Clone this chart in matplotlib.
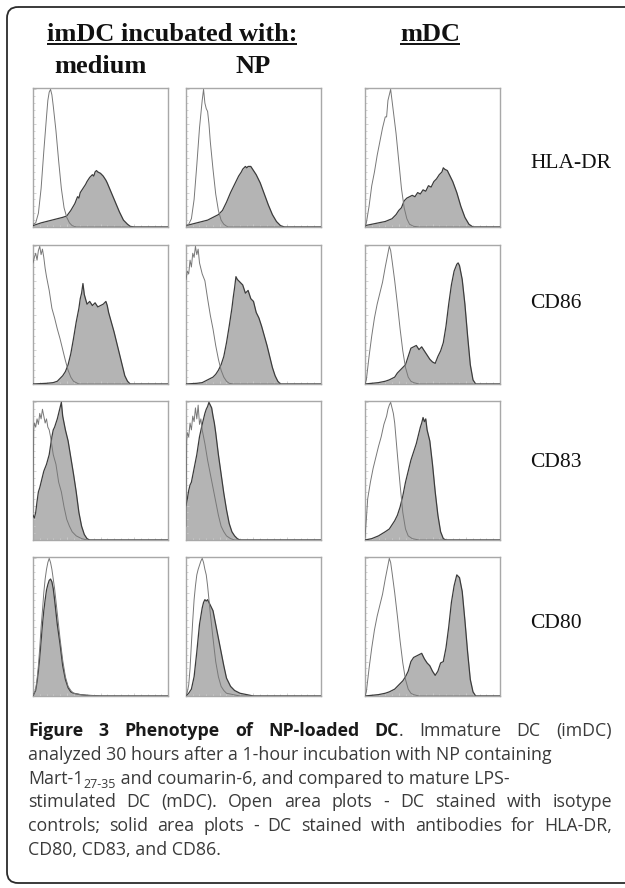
import matplotlib
matplotlib.use('Agg')
import matplotlib.pyplot as plt
from matplotlib.patches import FancyBboxPatch

# ---------------- data (x: fluorescence channel 0-100, y: % of max count) -------------
markers = ["HLA-DR", "CD86", "CD83", "CD80"]
conditions = ["medium", "NP", "mDC"]

# HLA-DR
hla_med_iso_x = [0, 2, 4, 6, 8, 10, 11, 12, 13, 14, 15, 17, 19, 21, 23, 25, 27, 29, 32, 40, 100]
hla_med_iso_y = [2, 3, 10, 28, 55, 80, 92, 98, 100, 96, 88, 70, 48, 28, 14, 7, 3, 1, 0, 0, 0]
hla_med_ab_x = [0, 3, 6, 10, 14, 18, 22, 25, 28, 31, 33, 34, 35, 37, 39, 40, 42, 44, 45, 46, 47, 48, 50, 52, 54, 55, 58, 61, 64, 67, 70, 72, 75, 100]
hla_med_ab_y = [1, 2, 3, 4, 5, 6, 7, 8, 12, 17, 22, 21, 25, 28, 31, 33, 36, 38, 37, 40, 41, 40, 39, 37, 34, 32, 25, 18, 11, 5, 2, 0.5, 0, 0]
hla_np_iso_x = [0, 2, 4, 6, 8, 10, 12, 13, 14, 15, 16, 17, 18, 20, 22, 24, 26, 28, 31, 40, 100]
hla_np_iso_y = [1, 2, 6, 20, 45, 72, 92, 100, 90, 86, 84, 75, 62, 42, 24, 12, 5, 2, 0, 0, 0]
hla_np_ab_x = [0, 4, 8, 12, 16, 20, 24, 27, 30, 33, 36, 39, 41, 42, 44, 45, 46, 48, 50, 52, 55, 58, 61, 64, 67, 70, 73, 100]
hla_np_ab_y = [1, 2, 3, 4, 5, 7, 9, 12, 18, 25, 31, 37, 40, 42, 44, 43, 44, 44, 41, 38, 32, 24, 16, 9, 4, 1, 0, 0]
hla_mdc_iso_x = [0, 1, 3, 5, 7, 9, 11, 13, 15, 16, 17, 18, 19, 20, 21, 23, 25, 27, 29, 31, 33, 36, 40, 100]
hla_mdc_iso_y = [0, 3, 15, 30, 40, 52, 62, 72, 80, 80, 92, 96, 100, 92, 84, 68, 48, 28, 14, 6, 2, 0.5, 0, 0]
hla_mdc_ab_x = [0, 5, 10, 15, 20, 23, 25, 27, 29, 31, 33, 35, 37, 39, 41, 43, 45, 47, 49, 51, 53, 55, 57, 58, 59, 61, 63, 65, 68, 71, 74, 77, 80, 100]
hla_mdc_ab_y = [1, 2, 3, 4, 6, 9, 12, 14, 19, 21, 22, 23, 22, 25, 24, 27, 26, 30, 29, 33, 35, 38, 40, 43, 42, 41, 37, 33, 25, 15, 7, 2, 0, 0]

# CD86
cd86_med_iso_x = [0, 1, 2, 3, 4, 5, 6, 7, 8, 9, 10, 12, 14, 16, 18, 20, 22, 24, 26, 28, 30, 32, 34, 40, 100]
cd86_med_iso_y = [88, 92, 95, 90, 97, 100, 94, 98, 92, 84, 78, 68, 55, 48, 40, 33, 25, 17, 10, 5, 2, 1, 0, 0, 0]
cd86_med_ab_x = [0, 10, 15, 18, 20, 22, 24, 26, 28, 30, 32, 34, 35, 36, 37, 38, 40, 42, 44, 46, 48, 50, 52, 54, 55, 56, 58, 60, 62, 64, 66, 68, 70, 72, 100]
cd86_med_ab_y = [0, 0.5, 1, 2, 4, 6, 9, 14, 22, 33, 45, 55, 62, 66, 73, 65, 58, 60, 57, 59, 56, 57, 58, 60, 57, 52, 45, 38, 30, 22, 14, 6, 2, 0, 0]
cd86_np_iso_x = [0, 1, 2, 3, 4, 5, 6, 7, 8, 9, 10, 12, 14, 16, 18, 20, 22, 24, 26, 28, 30, 32, 35, 100]
cd86_np_iso_y = [76, 82, 80, 90, 85, 95, 92, 100, 94, 98, 88, 80, 75, 62, 50, 40, 28, 18, 10, 5, 2, 0.5, 0, 0]
cd86_np_ab_x = [0, 8, 12, 16, 20, 22, 24, 26, 28, 30, 32, 34, 35, 36, 37, 38, 40, 42, 44, 46, 48, 50, 52, 54, 56, 58, 60, 62, 64, 66, 68, 70, 100]
cd86_np_ab_y = [0, 0.5, 1, 3, 5, 7, 10, 14, 20, 30, 42, 55, 63, 70, 78, 76, 74, 72, 66, 68, 62, 60, 52, 48, 42, 35, 28, 20, 12, 6, 2, 0, 0]
cd86_mdc_iso_x = [0, 1, 3, 5, 7, 9, 11, 13, 15, 17, 18, 19, 20, 22, 24, 26, 28, 30, 32, 34, 36, 40, 100]
cd86_mdc_iso_y = [0, 3, 20, 35, 48, 58, 66, 74, 85, 95, 100, 97, 90, 75, 58, 40, 24, 12, 5, 2, 1, 0, 0]
cd86_mdc_ab_x = [0, 10, 15, 18, 20, 22, 24, 26, 28, 30, 32, 34, 36, 38, 40, 42, 44, 46, 48, 50, 52, 54, 56, 58, 60, 62, 64, 66, 68, 69, 70, 72, 74, 76, 78, 80, 82, 100]
cd86_mdc_ab_y = [0, 1, 2, 3, 4, 5, 8, 10, 12, 14, 20, 26, 27, 28, 25, 27, 24, 21, 18, 16, 15, 20, 24, 30, 42, 58, 72, 82, 87, 88, 86, 76, 58, 35, 14, 3, 0, 0]

# CD83
cd83_med_iso_x = [0, 0.5, 1, 2, 3, 4, 5, 6, 7, 8, 9, 10, 11, 12, 13, 15, 17, 19, 21, 23, 25, 27, 29, 32, 36, 40, 100]
cd83_med_iso_y = [20, 80, 85, 82, 88, 84, 92, 88, 95, 90, 85, 88, 82, 80, 75, 62, 55, 42, 35, 24, 15, 10, 6, 3, 1, 0, 0]
cd83_med_ab_x = [0, 1, 2, 3, 4, 5, 6, 8, 10, 12, 14, 15, 16, 18, 19, 20, 21, 22, 23, 24, 26, 28, 30, 32, 34, 36, 38, 40, 42, 100]
cd83_med_ab_y = [18, 16, 20, 28, 35, 38, 42, 50, 55, 62, 75, 80, 82, 88, 92, 96, 100, 90, 85, 80, 72, 60, 48, 35, 20, 10, 4, 1, 0, 0]
cd83_np_iso_x = [0, 0.5, 1, 2, 3, 4, 5, 6, 7, 8, 9, 10, 11, 12, 14, 16, 18, 20, 22, 24, 26, 28, 30, 33, 36, 100]
cd83_np_iso_y = [10, 72, 78, 75, 85, 80, 90, 86, 96, 88, 98, 84, 88, 80, 70, 58, 48, 38, 28, 18, 10, 6, 3, 1, 0, 0]
cd83_np_ab_x = [0, 1, 2, 3, 4, 6, 8, 10, 12, 14, 15, 16, 17, 18, 19, 20, 21, 22, 24, 26, 28, 30, 32, 34, 36, 38, 40, 100]
cd83_np_ab_y = [25, 30, 36, 40, 42, 52, 62, 75, 84, 92, 95, 97, 100, 98, 96, 90, 85, 78, 62, 48, 34, 22, 12, 6, 3, 1, 0, 0]
cd83_mdc_iso_x = [0, 1, 2, 4, 6, 8, 10, 12, 14, 16, 17, 18, 19, 20, 21, 22, 24, 26, 28, 30, 32, 35, 40, 100]
cd83_mdc_iso_y = [2, 15, 30, 42, 52, 60, 68, 75, 84, 90, 95, 98, 100, 96, 92, 85, 62, 40, 20, 8, 3, 1, 0, 0]
cd83_mdc_ab_x = [0, 5, 10, 15, 18, 20, 22, 24, 26, 28, 30, 32, 34, 36, 38, 40, 41, 42, 43, 44, 45, 46, 48, 50, 52, 54, 56, 58, 60, 100]
cd83_mdc_ab_y = [0, 1, 3, 6, 8, 11, 14, 18, 24, 32, 42, 50, 58, 64, 70, 78, 82, 85, 89, 86, 88, 80, 72, 55, 35, 18, 6, 1, 0, 0]

# CD80
cd80_med_iso_x = [0, 2, 3, 4, 5, 6, 7, 8, 9, 10, 11, 12, 13, 14, 15, 16, 18, 20, 22, 24, 26, 28, 30, 35, 40, 50, 100]
cd80_med_iso_y = [0, 5, 12, 22, 35, 50, 62, 75, 85, 92, 97, 100, 97, 92, 85, 78, 60, 42, 26, 14, 7, 4, 2, 1, 0.5, 0, 0]
cd80_med_ab_x = [0, 2, 3, 4, 5, 6, 7, 8, 9, 10, 11, 12, 13, 14, 15, 16, 18, 20, 22, 24, 26, 28, 30, 35, 40, 50, 100]
cd80_med_ab_y = [0, 4, 10, 18, 28, 40, 52, 62, 70, 77, 81, 84, 85, 83, 78, 70, 52, 38, 22, 12, 6, 3, 2, 1, 0.5, 0, 0]
cd80_np_iso_x = [0, 1, 2, 3, 4, 5, 6, 7, 8, 9, 10, 11, 12, 13, 14, 15, 16, 17, 18, 20, 22, 24, 26, 28, 30, 35, 40, 100]
cd80_np_iso_y = [0, 3, 8, 20, 38, 55, 70, 80, 88, 92, 95, 98, 100, 97, 92, 88, 80, 70, 60, 42, 25, 14, 7, 4, 2, 1, 0, 0]
cd80_np_ab_x = [0, 2, 4, 6, 8, 10, 12, 13, 14, 15, 16, 17, 18, 20, 22, 24, 26, 28, 30, 33, 36, 40, 45, 50, 100]
cd80_np_ab_y = [0, 2, 5, 14, 32, 52, 64, 68, 70, 69, 70, 68, 66, 62, 52, 42, 32, 22, 13, 7, 4, 2, 1, 0, 0]
cd80_mdc_iso_x = [0, 1, 3, 5, 7, 9, 11, 13, 15, 17, 18, 19, 20, 22, 24, 26, 28, 30, 32, 34, 36, 40, 100]
cd80_mdc_iso_y = [0, 3, 20, 35, 48, 58, 66, 74, 85, 95, 100, 97, 90, 75, 58, 40, 24, 12, 5, 2, 1, 0, 0]
cd80_mdc_ab_x = [0, 10, 15, 18, 20, 22, 24, 26, 28, 30, 32, 34, 36, 38, 40, 42, 44, 46, 48, 50, 52, 54, 56, 58, 60, 62, 64, 66, 68, 70, 72, 74, 76, 78, 80, 82, 100]
cd80_mdc_ab_y = [0, 1, 2, 3, 4, 5, 7, 9, 11, 14, 18, 25, 28, 29, 30, 31, 27, 24, 22, 18, 15, 18, 24, 25, 35, 50, 68, 80, 88, 86, 76, 55, 32, 12, 3, 0, 0]

panels = [
    [(hla_med_iso_x, hla_med_iso_y, hla_med_ab_x, hla_med_ab_y),
     (hla_np_iso_x, hla_np_iso_y, hla_np_ab_x, hla_np_ab_y),
     (hla_mdc_iso_x, hla_mdc_iso_y, hla_mdc_ab_x, hla_mdc_ab_y)],
    [(cd86_med_iso_x, cd86_med_iso_y, cd86_med_ab_x, cd86_med_ab_y),
     (cd86_np_iso_x, cd86_np_iso_y, cd86_np_ab_x, cd86_np_ab_y),
     (cd86_mdc_iso_x, cd86_mdc_iso_y, cd86_mdc_ab_x, cd86_mdc_ab_y)],
    [(cd83_med_iso_x, cd83_med_iso_y, cd83_med_ab_x, cd83_med_ab_y),
     (cd83_np_iso_x, cd83_np_iso_y, cd83_np_ab_x, cd83_np_ab_y),
     (cd83_mdc_iso_x, cd83_mdc_iso_y, cd83_mdc_ab_x, cd83_mdc_ab_y)],
    [(cd80_med_iso_x, cd80_med_iso_y, cd80_med_ab_x, cd80_med_ab_y),
     (cd80_np_iso_x, cd80_np_iso_y, cd80_np_ab_x, cd80_np_ab_y),
     (cd80_mdc_iso_x, cd80_mdc_iso_y, cd80_mdc_ab_x, cd80_mdc_ab_y)],
]

caption_bold = "Figure 3 Phenotype of NP-loaded DC"
caption_lines = [
    [(caption_bold, 'b'), (". Immature DC (imDC)", 'r')],
    [("analyzed 30 hours after a 1-hour incubation with NP containing", 'r')],
    [("Mart-1", 'r'), ("27-35", 's'), (" and coumarin-6, and compared to mature LPS-", 'r')],
    [("stimulated DC (mDC). Open area plots - DC stained with isotype", 'r')],
    [("controls; solid area plots - DC stained with antibodies for HLA-DR,", 'r')],
    [("CD80, CD83, and CD86.", 'r')],
]
caption_justify = [True, False, False, True, True, False]

# ---------------- layout ----------------
W, H = 625, 888
fig = plt.figure(figsize=(W / 100, H / 100), dpi=100)
fig.patch.set_facecolor('white')

bg = fig.add_axes([0, 0, 1, 1])
bg.set_xlim(0, W)
bg.set_ylim(H, 0)
bg.axis('off')

border = FancyBboxPatch((7, 7), 700, 876, boxstyle="round,pad=0,rounding_size=11",
                        facecolor='none', edgecolor='#2b2b2b', linewidth=1.3)
bg.add_patch(border)

col_x = [(33, 168), (186, 321), (365, 500)]
row_y = [(88, 227), (245, 384), (401, 540), (557, 696)]
label_y = [164, 303, 462, 623]

FILL = '#b4b4b4'
EDGE = '#3c3c3c'
ISO = '#787878'
FRAME = '#a8a8a8'

for r, (y0, y1) in enumerate(row_y):
    for c, (x0, x1) in enumerate(col_x):
        ax = fig.add_axes([x0 / W, 1 - y1 / H, (x1 - x0) / W, (y1 - y0) / H])
        ix, iy, ax_x, ax_y = panels[r][c]
        ax.fill_between(ax_x, ax_y, 0, color=FILL, linewidth=0, zorder=1)
        ax.plot(ax_x, ax_y, color=EDGE, linewidth=0.9, zorder=3)
        ax.plot(ix, iy, color=ISO, linewidth=0.7, zorder=4)
        ax.set_xlim(0, 100)
        ax.set_ylim(0, 101)
        for sp in ax.spines.values():
            sp.set_color(FRAME)
            sp.set_linewidth(1.0)
        ax.set_xticks([0, 25, 50, 75, 100])
        ax.set_yticks([0, 25, 50, 75, 100])
        ax.set_xticks(range(0, 101, 5), minor=True)
        ax.set_yticks(range(0, 101, 5), minor=True)
        ax.tick_params(which='both', direction='in', colors='#cccccc', labelbottom=False,
                       labelleft=False, width=0.6)
        ax.tick_params(which='major', length=2.5)
        ax.tick_params(which='minor', length=1.2)
    bg.text(530, label_y[r], markers[r], fontfamily='Liberation Serif', fontsize=15.5,
            color='#111111', va='center', ha='left')

renderer = fig.canvas.get_renderer()
inv = bg.transData.inverted()

HEAD_FS = 19


def underlined(xc, y, s, size):
    t = bg.text(xc, y, s, fontfamily='Liberation Serif', fontweight='bold', fontsize=size,
                color='#111111', ha='center', va='baseline')
    bb = t.get_window_extent(renderer=renderer)
    xa = inv.transform((bb.x0, 0))[0]
    xb = inv.transform((bb.x1, 0))[0]
    bg.plot([xa, xb], [y + 3, y + 3], color='#111111', linewidth=1.4, solid_capstyle='butt')


underlined(172, 41, "imDC incubated with:", HEAD_FS)
underlined(430, 41, "mDC", HEAD_FS)
for (x0, x1), name in zip(col_x[:2], conditions[:2]):
    bg.text((x0 + x1) / 2, 73, name, fontfamily='Liberation Serif', fontweight='bold',
            fontsize=HEAD_FS, color='#111111', ha='center', va='baseline')

# caption
CAP_FS = 12.8
CAP_LEFT, CAP_RIGHT = 28, 612


def run_style(kind):
    if kind == 'b':
        return dict(fontfamily='Open Sans', fontweight='bold', fontsize=CAP_FS, color='#1a1a1a')
    if kind == 's':
        return dict(fontfamily='Open Sans', fontsize=9, color='#3a3a3a')
    return dict(fontfamily='Open Sans', fontsize=CAP_FS, color='#3a3a3a')


def ink_width(s, kind):
    t = bg.text(0, 0, s, **run_style(kind))
    bb = t.get_window_extent(renderer=renderer)
    t.remove()
    return bb.width


def advance(s, kind):
    # advance width measured between two bar glyphs (includes side bearings / spaces)
    return ink_width('|' + s + '|', kind) - ink_width('||', kind)


space_w = advance(' ', 'r')

cap_base = [736, 760, 784, 807, 831, 855]
for yb, runs, just in zip(cap_base, caption_lines, caption_justify):
    if not just:
        x = CAP_LEFT
        for s, kind in runs:
            dy = 4 if kind == 's' else 0
            bg.text(x, yb + dy, s, ha='left', va='baseline', **run_style(kind))
            x += advance(s, kind)
        continue
    tokens = []
    for s, kind in runs:
        parts = s.split(' ')
        for k, p in enumerate(parts):
            if p == '':
                continue
            glue = (k > 0) or (s.startswith(' ') and k == 0)
            if not tokens:
                glue = False
            tokens.append([p, kind, glue])
    widths = [advance(p, kind) for p, kind, g in tokens]
    n_gaps = sum(1 for t in tokens if t[2])
    natural = sum(widths) + n_gaps * space_w
    gap = space_w + max(0.0, CAP_RIGHT - CAP_LEFT - natural) / max(n_gaps, 1)
    x = CAP_LEFT
    for (p, kind, glue), w in zip(tokens, widths):
        if glue:
            x += gap
        bg.text(x, yb, p, ha='left', va='baseline', **run_style(kind))
        x += w

fig.savefig('out.png', dpi=100, facecolor='white')
